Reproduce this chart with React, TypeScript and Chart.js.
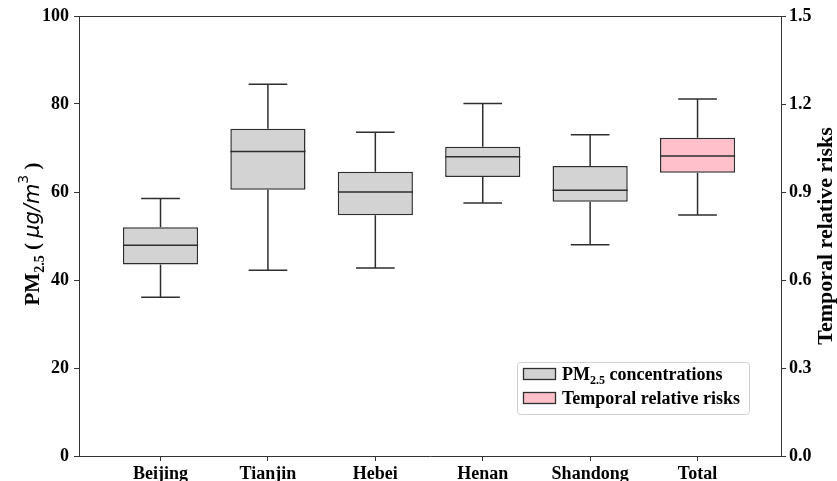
import React, { useEffect, useRef } from "react";
import { Chart, registerables } from "chart.js";

Chart.register(...registerables);

const categories = ["Beijing", "Tianjin", "Hebei", "Henan", "Shandong", "Total"];
const pmPositions = [1, 2, 3, 4, 5];
const pmMin = [36.1, 42.2, 42.7, 57.5, 48.0];
const pmQ1 = [43.5, 60.5, 54.7, 63.4, 57.8];
const pmMedian = [47.9, 69.2, 60.0, 68.0, 60.4];
const pmQ3 = [52.0, 74.4, 64.6, 70.3, 65.9];
const pmMax = [58.5, 84.5, 73.6, 80.1, 73.0];

const rrPositions = [6];
const rrMin = [0.822];
const rrQ1 = [0.966];
const rrMedian = [1.023];
const rrQ3 = [1.085];
const rrMax = [1.217];

const leftTicks = [0, 20, 40, 60, 80, 100];
const rightTicks = [0, 0.3, 0.6, 0.9, 1.2, 1.5];

const SERIF = '"Liberation Serif", "Times New Roman", serif';
const EDGE = "#2e2e2e";

function drawSegments(ctx: CanvasRenderingContext2D, segs: any[], startX: number, baseY: number) {
  let x = startX;
  for (const s of segs) {
    ctx.font = s.font;
    ctx.fillText(s.text, x, baseY + (s.dy || 0));
    x += ctx.measureText(s.text).width;
  }
}
function segWidth(ctx: CanvasRenderingContext2D, segs: any[]) {
  let w = 0;
  for (const s of segs) {
    ctx.font = s.font;
    w += ctx.measureText(s.text).width;
  }
  return w;
}

const boxPlugin = {
  id: "boxWhiskers",
  afterDatasetsDraw(chart: any) {
    const ctx = chart.ctx;
    const xScale = chart.scales.x;
    chart.data.datasets.forEach((ds: any, i: number) => {
      const meta = chart.getDatasetMeta(i);
      const yScale = chart.scales[ds.yAxisID];
      ds.data.forEach((d: any, j: number) => {
        const el = meta.data[j];
        const px = xScale.getPixelForValue(d.x);
        const capL = xScale.getPixelForValue(d.x - 0.18);
        const capR = xScale.getPixelForValue(d.x + 0.18);
        const yMin = yScale.getPixelForValue(ds.stats.min[j]);
        const yQ1 = yScale.getPixelForValue(ds.stats.q1[j]);
        const yMed = yScale.getPixelForValue(ds.stats.median[j]);
        const yQ3 = yScale.getPixelForValue(ds.stats.q3[j]);
        const yMax = yScale.getPixelForValue(ds.stats.max[j]);
        ctx.save();
        ctx.strokeStyle = EDGE;
        ctx.lineWidth = 1.5;
        ctx.beginPath();
        ctx.moveTo(px, yQ3);
        ctx.lineTo(px, yMax);
        ctx.moveTo(capL, yMax);
        ctx.lineTo(capR, yMax);
        ctx.moveTo(px, yQ1);
        ctx.lineTo(px, yMin);
        ctx.moveTo(capL, yMin);
        ctx.lineTo(capR, yMin);
        ctx.moveTo(el.x - el.width / 2, yMed);
        ctx.lineTo(el.x + el.width / 2, yMed);
        ctx.stroke();
        ctx.restore();
      });
    });
  },
  afterDraw(chart: any) {
    const ctx = chart.ctx;
    const a = chart.chartArea;
    ctx.save();
    // top spine
    ctx.strokeStyle = "#333";
    ctx.lineWidth = 1;
    ctx.beginPath();
    ctx.moveTo(a.left, a.top + 0.5);
    ctx.lineTo(a.right, a.top + 0.5);
    ctx.stroke();

    ctx.fillStyle = "#000";
    ctx.textBaseline = "alphabetic";
    // left title
    const leftSegs = [
      { text: "PM", font: `bold 21px ${SERIF}` },
      { text: "2.5", font: `bold 14px ${SERIF}`, dy: 5 },
      { text: " ( ", font: `bold 21px ${SERIF}` },
      { text: "μg/m", font: `italic 21px "DejaVu Sans"` },
      { text: "3", font: `14px "DejaVu Sans"`, dy: -11 },
      { text: " )", font: `bold 21px ${SERIF}` },
    ];
    ctx.save();
    ctx.translate(38.5, 234);
    ctx.rotate(-Math.PI / 2);
    drawSegments(ctx, leftSegs, -segWidth(ctx, leftSegs) / 2, 0);
    ctx.restore();

    // right title
    const rightSegs = [{ text: "Temporal relative risks", font: `bold 22px ${SERIF}` }];
    ctx.save();
    ctx.translate(832, 236);
    ctx.rotate(-Math.PI / 2);
    drawSegments(ctx, rightSegs, -segWidth(ctx, rightSegs) / 2, 0);
    ctx.restore();

    // legend
    const lx = 517, ly = 362, lw = 232, lh = 52;
    ctx.fillStyle = "rgba(255,255,255,0.9)";
    ctx.strokeStyle = "#d0d0d0";
    ctx.lineWidth = 1;
    ctx.beginPath();
    (ctx as any).roundRect(lx + 0.5, ly + 0.5, lw, lh, 3);
    ctx.fill();
    ctx.stroke();
    const items = [
      { color: "#d3d3d3", segs: [
        { text: "PM", font: `bold 18px ${SERIF}` },
        { text: "2.5", font: `bold 12px ${SERIF}`, dy: 4 },
        { text: " concentrations", font: `bold 18px ${SERIF}` },
      ] },
      { color: "#ffc0cb", segs: [{ text: "Temporal relative risks", font: `bold 18px ${SERIF}` }] },
    ];
    items.forEach((it, k) => {
      const py = 368.5 + k * 24;
      ctx.fillStyle = it.color;
      ctx.strokeStyle = EDGE;
      ctx.lineWidth = 1.3;
      ctx.fillRect(523.5, py, 32, 11);
      ctx.strokeRect(523.5, py, 32, 11);
      ctx.fillStyle = "#000";
      drawSegments(ctx, it.segs, 562, py + 11);
    });
    ctx.restore();
  },
};

export default function App() {
  const ref = useRef<HTMLCanvasElement>(null);
  useEffect(() => {
    if (!ref.current) return;
    const tickFont = { family: SERIF, size: 18, weight: "bold" as const };
    const chart = new Chart(ref.current, {
      type: "bar",
      data: {
        datasets: [
          {
            label: "PM2.5 concentrations",
            data: pmPositions.map((x, i) => ({ x, y: [pmQ1[i], pmQ3[i]] })) as any,
            yAxisID: "y",
            backgroundColor: "#d3d3d3",
            borderColor: EDGE,
            borderWidth: 1.5,
            borderSkipped: false,
            barPercentage: 0.7,
            categoryPercentage: 1,
            grouped: false,
            stats: { min: pmMin, q1: pmQ1, median: pmMedian, q3: pmQ3, max: pmMax },
          } as any,
          {
            label: "Temporal relative risks",
            data: rrPositions.map((x, i) => ({ x, y: [rrQ1[i], rrQ3[i]] })) as any,
            yAxisID: "y1",
            backgroundColor: "#ffc0cb",
            borderColor: EDGE,
            borderWidth: 1.5,
            borderSkipped: false,
            barPercentage: 0.7,
            categoryPercentage: 1,
            grouped: false,
            stats: { min: rrMin, q1: rrQ1, median: rrMedian, q3: rrQ3, max: rrMax },
          } as any,
        ],
      },
      options: {
        responsive: false,
        animation: false,
        maintainAspectRatio: false,
        layout: { padding: { top: 16, left: 0, right: 0, bottom: 0 } },
        plugins: { legend: { display: false }, tooltip: { enabled: false } },
        scales: {
          x: {
            type: "linear",
            offset: false,
            min: 0.241,
            max: 6.777,
            afterBuildTicks: (s: any) => {
              s.ticks = categories.map((_, i) => ({ value: i + 1 }));
            },
            afterFit: (s: any) => { s.height = 25; },
            ticks: {
              autoSkip: false,
              maxRotation: 0,
              font: tickFont,
              color: "#000",
              padding: 3,
              callback: (v: any) => categories[Math.round(v) - 1] ?? "",
            },
            grid: { display: true, offset: false, drawOnChartArea: false, drawTicks: true, tickLength: 5, tickColor: "#333" },
            border: { display: true, color: "#333", width: 1 },
          },
          y: {
            type: "linear",
            position: "left",
            min: 0,
            max: 100,
            afterBuildTicks: (s: any) => { s.ticks = leftTicks.map((v) => ({ value: v })); },
            afterFit: (s: any) => { s.width = 79; },
            ticks: { font: tickFont, color: "#000", padding: 5 },
            grid: { display: true, drawOnChartArea: false, drawTicks: true, tickLength: 5, tickColor: "#333" },
            border: { display: true, color: "#333", width: 1 },
          },
          y1: {
            type: "linear",
            position: "right",
            min: 0,
            max: 1.5,
            afterBuildTicks: (s: any) => { s.ticks = rightTicks.map((v) => ({ value: v })); },
            afterFit: (s: any) => { s.width = 56; },
            ticks: { font: tickFont, color: "#000", padding: 3, callback: (v: any) => Number(v).toFixed(1) },
            grid: { display: true, drawOnChartArea: false, drawTicks: true, tickLength: 5, tickColor: "#333" },
            border: { display: true, color: "#333", width: 1 },
          },
        },
      } as any,
      plugins: [boxPlugin],
    });
    return () => chart.destroy();
  }, []);
  return (
    <div style={{ position: "fixed", left: 0, top: 0, width: 837, height: 481, background: "#fff" }}>
      <canvas ref={ref} width={837} height={481} />
    </div>
  );
}
